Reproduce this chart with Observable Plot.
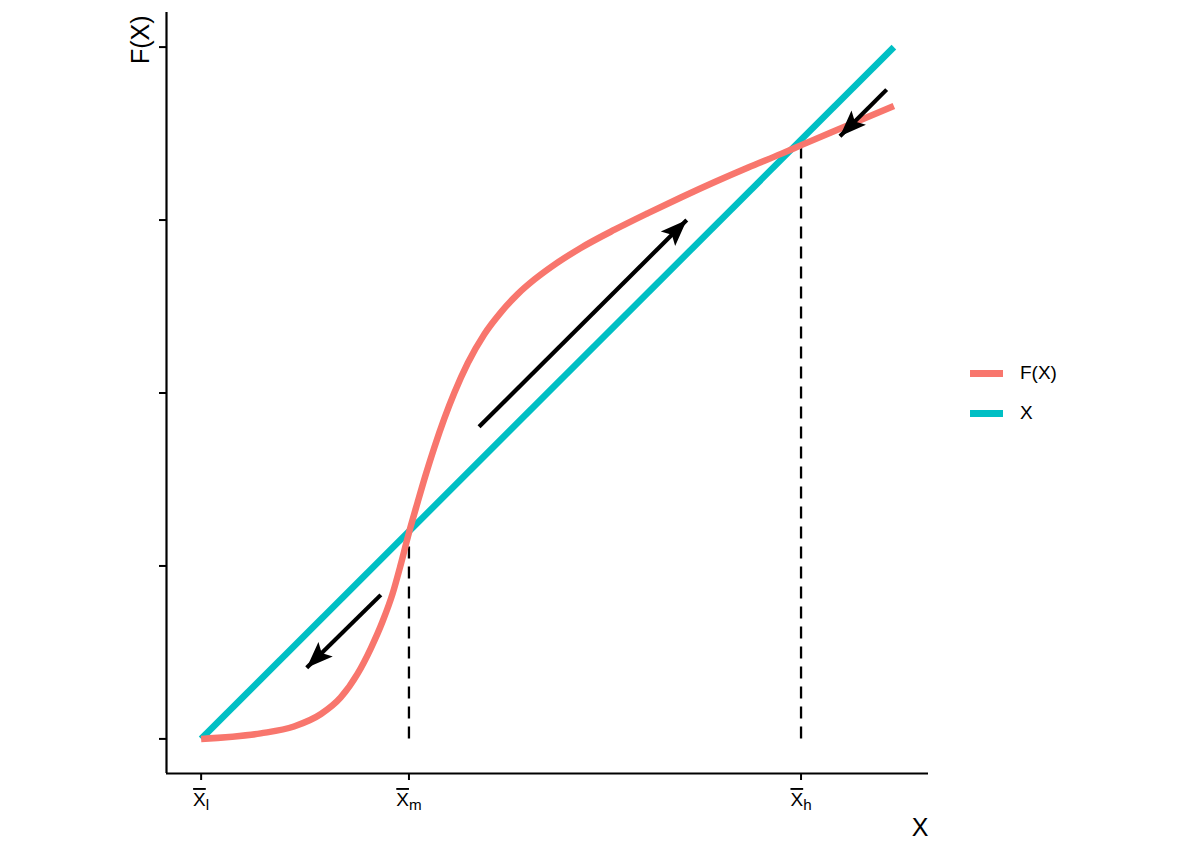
<!DOCTYPE html>
<html>
<head>
<meta charset="utf-8">
<script src="https://cdn.jsdelivr.net/npm/d3@7"></script>
<script src="https://cdn.jsdelivr.net/npm/@observablehq/plot@0.6"></script>
<style>
  html, body { margin: 0; padding: 0; background: white; }
  #wrap { position: relative; width: 1200px; height: 857px; font-family: "Liberation Sans", Arial, sans-serif; }
  #legend { position: absolute; left: 970px; top: 353px; }
  .row { display: flex; align-items: center; height: 40px; }
  .sw { width: 33px; height: 7px; margin-right: 17px; }
  .lab { font-size: 19px; color: black; }
</style>
</head>
<body>
<div id="wrap"></div>
<script>
// ---- data ----
const curveX = [0, 0.086, 0.134, 0.173, 0.2015, 0.2257, 0.245, 0.262, 0.2764, 0.2884, 0.3, 0.3125, 0.3245, 0.3365, 0.351, 0.3654, 0.3848, 0.4088, 0.433, 0.457, 0.481, 0.505, 0.5486, 0.5968, 0.6451, 0.6933, 0.7414, 0.7897, 0.838, 0.868, 0.910, 0.958, 1.0];
const curveF = [0, 0.008, 0.018, 0.036, 0.060, 0.094, 0.131, 0.170, 0.210, 0.253, 0.298, 0.342, 0.383, 0.421, 0.463, 0.500, 0.543, 0.585, 0.617, 0.643, 0.664, 0.682, 0.710, 0.736, 0.760, 0.783, 0.805, 0.826, 0.846, 0.859, 0.877, 0.897, 0.915];
const identX = [0, 1];
const arrowX1 = [0.2594, 0.4012, 0.9896];
const arrowY1 = [0.2082, 0.4512, 0.9385];
const arrowX2 = [0.1524, 0.7010, 0.9222];
const arrowY2 = [0.1027, 0.7500, 0.8710];
const eqX = [0.3, 0.866];
const xTicks = [0, 0.3, 0.866];
const xTickSubs = ["l", "m", "h"];
const yTicks = [0, 0.25, 0.5, 0.75, 1];
const seriesNames = ["F(X)", "X"];
const seriesColors = ["#F8766D", "#00BFC4"];
const xTitle = "X";
const yTitle = "F(X)";
const domain = [-0.05, 1.05];

const curve = curveX.map((x, i) => ({x, y: curveF[i]}));
const ident = identX.map(x => ({x, y: x}));
const arrows = arrowX1.map((x1, i) => ({x1, y1: arrowY1[i], x2: arrowX2[i], y2: arrowY2[i]}));

const svg = Plot.plot({
  width: 1200, height: 857,
  marginLeft: 166, marginRight: 272, marginTop: 12, marginBottom: 84,
  x: {domain}, y: {domain},
  style: {fontFamily: "Liberation Sans, Arial, sans-serif", color: "black", background: "white", overflow: "visible"},
  marks: [
    Plot.axisY({ticks: yTicks, tickSize: 7, tickFormat: () => "", label: null, strokeWidth: 2}),
    Plot.axisX({ticks: xTicks, tickSize: 7, tickPadding: 12, fontSize: 19, label: null, strokeWidth: 2,
      tickFormat: d => xTickSubs[xTicks.indexOf(d)]}),
    Plot.ruleX([domain[0]], {strokeWidth: 2.2}),
    Plot.ruleY([domain[0]], {strokeWidth: 2.2}),
    Plot.ruleX(eqX, {x: d => d, y1: 0, y2: d => d, stroke: "black", strokeWidth: 2.3, strokeDasharray: "12,8"}),
    Plot.line(ident, {x: "x", y: "y", stroke: seriesColors[1], strokeWidth: 6.5, strokeLinecap: "butt"}),
    Plot.line(curve, {x: "x", y: "y", stroke: seriesColors[0], strokeWidth: 6.5, strokeLinecap: "butt", curve: "monotone-x"}),
    Plot.link(arrows, {x1: "x1", y1: "y1", x2: "x2", y2: "y2", stroke: "black", strokeWidth: 4.2}),
    Plot.text([xTitle], {frameAnchor: "bottom-right", textAnchor: "end", lineAnchor: "middle", dy: 54, fontSize: 25}),
    Plot.text([yTitle], {frameAnchor: "top-left", rotate: -90, textAnchor: "end", lineAnchor: "middle", dx: -26, dy: 3, fontSize: 25})
  ]
});

// arrowheads
const sel = d3.select(svg);
const defs = sel.insert("defs", ":first-child");
defs.append("marker")
  .attr("id", "ah").attr("markerUnits", "userSpaceOnUse")
  .attr("viewBox", "-32 -13 34 26").attr("markerWidth", 34).attr("markerHeight", 26)
  .attr("refX", 0).attr("refY", 0).attr("orient", "auto")
  .append("path").attr("d", "M0,0L-26.5,-10.2L-21,0L-26.5,10.2Z").attr("fill", "black");
sel.selectAll('g[aria-label="link"] path').attr("marker-end", "url(#ah)");

// x tick labels: X with overbar and subscript
sel.selectAll('g[aria-label="x-axis tick label"] text').each(function() {
  const sub = this.textContent;
  const t = d3.select(this);
  t.text("");
  t.append("tspan").style("text-decoration", "overline").text("X");
  t.append("tspan").attr("font-size", "0.8em").attr("dy", "0.25em").text(sub);
});

const wrap = document.getElementById("wrap");
wrap.appendChild(svg);

const legend = document.createElement("div");
legend.id = "legend";
seriesNames.forEach((name, i) => {
  const row = document.createElement("div");
  row.className = "row";
  const sw = document.createElement("div");
  sw.className = "sw";
  sw.style.background = seriesColors[i];
  const lab = document.createElement("span");
  lab.className = "lab";
  lab.textContent = name;
  row.appendChild(sw); row.appendChild(lab);
  legend.appendChild(row);
});
wrap.appendChild(legend);
</script>
</body>
</html>
